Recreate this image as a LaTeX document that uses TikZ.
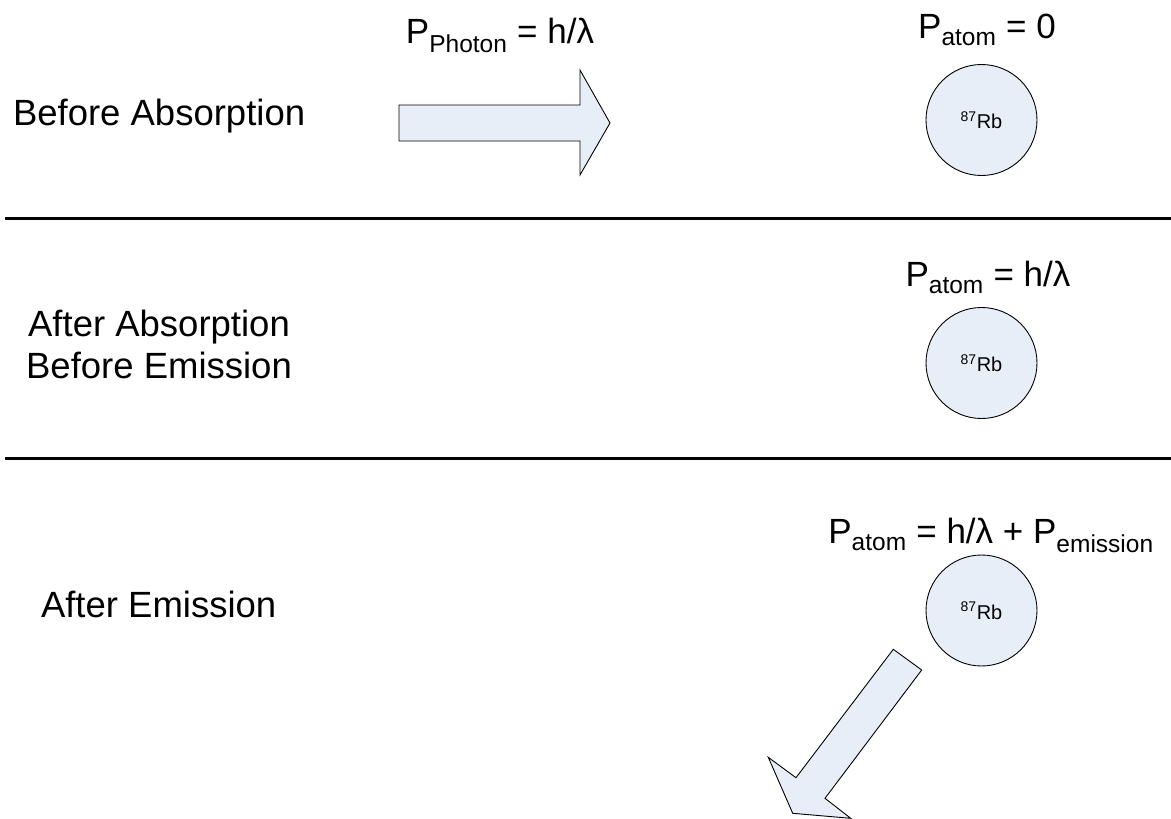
\documentclass[tikz,border=0pt]{standalone}
\usepackage{fontspec}
\setmainfont{Liberation Sans}
\definecolor{atomfill}{RGB}{232,238,247}
\begin{document}
\begin{tikzpicture}[x=1pt,y=-1pt,
  every node/.style={inner sep=0pt, outer sep=0pt},
  caption/.style={font=\fontsize{36.5}{44}\selectfont, anchor=base west},
  momentum/.style={font=\fontsize{35}{42}\selectfont, anchor=base},
  atom/.style={circle, draw=black, line width=0.9pt, fill=atomfill,
    minimum size=111pt, font=\fontsize{20}{24}\selectfont},
  blockarrow/.style={draw=black, line width=0.9pt, fill=atomfill, line join=miter},
  divider/.style={line width=2.7pt}]
\useasboundingbox (0,0) rectangle (1171,819);

% stage dividers
\draw[divider] (5,218.7) -- (1171,218.7);
\draw[divider] (5,458.3) -- (1171,458.3);

% stage captions
\node[caption] (stage1) at (13,125) {Before Absorption};
\node[caption, anchor=base] (stage2a) at (159,336.7) {After Absorption};
\node[caption, anchor=base] (stage2b) at (159,378) {Before Emission};
\node[caption] (stage3) at (41,617) {After Emission};

% atoms
\node[atom] (rb1) at (981.5,120) {\textsuperscript{87}Rb};
\node[atom] (rb2) at (981.5,363) {\textsuperscript{87}Rb};
\node[atom] (rb3) at (981.5,610.5) {\textsuperscript{87}Rb};

% momentum labels
\node[momentum] (pphoton) at (500,43) {P\textsubscript{Photon} = h/λ};
\node[momentum] (patom1) at (987,38) {P\textsubscript{atom} = 0};
\node[momentum] (patom2) at (988,286) {P\textsubscript{atom} = h/λ};
\node[momentum] (patom3) at (991,543) {P\textsubscript{atom} = h/λ + P\textsubscript{emission}};

% incoming photon
\draw[blockarrow] (399,105) -- (580,105) -- (580,70) -- (610,123)
  -- (580,175) -- (580,141) -- (399,141) -- cycle;

% emitted photon
\draw[blockarrow] (893.3,649.3) -- (921.7,670.0) -- (825.0,798.3)
  -- (850.7,818.3) -- (792.7,813.3) -- (768.3,757.3) -- (796.0,777.7) -- cycle;
\end{tikzpicture}
\end{document}
